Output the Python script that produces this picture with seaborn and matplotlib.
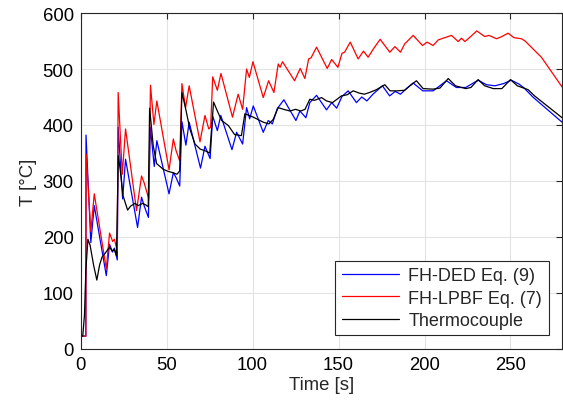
import matplotlib
matplotlib.use("Agg")
import matplotlib.pyplot as plt
import seaborn as sns
import pandas as pd

# ---- data ----
t_ded = [0, 3.0, 3.1, 5.9, 7.9, 14.9, 16.8, 18.5, 19.6, 21.3, 21.8, 24.4, 26.1, 33.1, 35.4, 37.0,
         39.4, 40.5, 42.8, 44.3, 51.4, 53.9, 55.5, 57.6, 58.9, 61.2, 63.1, 69.7, 72.3, 75.3,
         76.8, 79.5, 81.5, 88.0, 90.7, 94.2, 96.5, 98.3, 100.4, 106.2, 109.1, 111.5, 114.3,
         118.2, 125.2, 127.5, 131.0, 133.3, 137.2, 143.0, 146.0, 148.9, 152.0, 155.6, 160.4,
         163.5, 166.5, 170.0, 175.5, 179.7, 183.0, 186.0, 189.5, 193.4, 199.0, 205.0, 212.8,
         218.5, 224.0, 231.2, 236.0, 241.0, 246.0, 250.5, 255.0, 258.0, 263.0, 280]
T_ded = [23, 23, 382, 190, 256, 131, 187, 173, 180, 159, 396, 268, 339, 217, 271, 255,
         235, 396, 326, 372, 277, 315, 306, 291, 406, 364, 405, 323, 362, 340,
         416, 390, 417, 356, 387, 366, 431, 411, 434, 387, 408, 402, 429,
         445, 408, 425, 413, 440, 453, 427, 440, 430, 451, 461, 440,
         450, 443, 455, 470, 452, 460, 455, 465, 475, 461, 461, 479,
         467, 467, 480, 472, 470, 474, 480, 473, 466, 450, 405]

t_lpbf = [0, 3.0, 3.2, 5.9, 7.9, 14.9, 16.8, 18.6, 19.6, 21.3, 21.8, 24.2, 26.1, 32.5, 35.4,
          37.0, 39.6, 40.6, 42.6, 44.3, 51.4, 53.9, 55.5, 57.6, 58.9, 61.0, 63.1, 69.4, 72.3,
          74.5, 75.6, 76.8, 79.5, 81.6, 88.3, 91.6, 94.2, 96.5, 98.1, 100.2, 106.2, 109.3,
          112.4, 114.9, 116.0, 117.4, 124.4, 127.7, 130.4, 132.6, 134.0, 137.2, 143.4, 146.0,
          149.6, 152.0, 153.5, 156.8, 161.4, 164.5, 167.2, 170.5, 174.2, 179.8, 182.8, 186.0,
          188.5, 193.4, 198.8, 201.5, 205.0, 208.0, 215.7, 219.6, 221.5, 223.5, 226.5, 230.4,
          235.0, 237.5, 241.9, 245.0, 248.6, 252.0, 256.4, 258.5, 268.0, 280]
T_lpbf = [23, 23, 348, 210, 277, 143, 207, 192, 196, 175, 458, 312, 393, 247, 309,
          296, 268, 471, 401, 443, 320, 375, 354, 336, 474, 431, 470, 370, 417,
          393, 396, 486, 462, 492, 414, 455, 428, 500, 485, 513, 449, 479,
          458, 509, 503, 513, 479, 501, 483, 518, 520, 539, 501, 517,
          503, 528, 530, 548, 518, 532, 521, 537, 553, 530, 540, 530,
          545, 560, 542, 548, 542, 552, 560, 549, 555, 549, 557, 568,
          558, 560, 554, 558, 564, 556, 554, 550, 521, 468]

t_tc = [0, 1.2, 2.2, 3.0, 4.2, 5.5, 7.5, 9.4, 11.0, 12.4, 14.5, 16.8, 18.3, 19.5, 20.8, 21.9,
        23.0, 24.6, 27.3, 29.0, 31.5, 33.5, 36.0, 38.0, 39.3, 40.1, 42.2, 44.2, 46.5, 48.0,
        51.0, 53.5, 56.0, 57.6, 58.9, 61.0, 63.5, 66.5, 69.5, 72.3, 75.1, 77.3, 79.5, 82.0,
        85.9, 89.5, 93.5, 95.5, 98.0, 100.4, 103.0, 106.2, 109.5, 112.0, 114.9, 118.0, 121.7,
        125.0, 128.0, 130.5, 133.3, 136.0, 140.1, 143.0, 146.5, 151.7, 155.0, 158.5, 162.0,
        165.0, 168.0, 172.0, 176.9, 180.0, 184.0, 188.5, 191.5, 195.3, 199.2, 205.0, 209.0,
        213.8, 218.0, 224.0, 227.0, 231.2, 235.0, 240.0, 245.0, 250.0, 254.0, 260.3, 264.0, 280]
T_tc = [23, 23, 60, 140, 196, 185, 150, 123, 150, 164, 172, 182, 175, 178, 167, 345,
        320, 274, 248, 255, 260, 256, 260, 257, 254, 430, 363, 331, 325, 321,
        317, 315, 312, 318, 458, 430, 393, 366, 357, 354, 350, 441, 425, 408,
        399, 383, 381, 420, 417, 414, 410, 405, 402, 410, 431, 428, 425,
        428, 425, 428, 446, 444, 449, 443, 440, 452, 454, 461, 457,
        455, 458, 463, 472, 461, 461, 462, 470, 479, 465, 464, 466,
        483, 470, 465, 467, 481, 470, 465, 465, 481, 470, 463, 452, 413]

labels = ["FH-DED Eq. (9)", "FH-LPBF Eq. (7)", "Thermocouple"]
colors = ["#0000ff", "#ff0000", "#000000"]
x_ticks = [0, 50, 100, 150, 200, 250]
y_ticks = [0, 100, 200, 300, 400, 500, 600]

df = pd.concat([
    pd.DataFrame({"Time": t_ded, "T": T_ded, "series": labels[0]}),
    pd.DataFrame({"Time": t_lpbf, "T": T_lpbf, "series": labels[1]}),
    pd.DataFrame({"Time": t_tc, "T": T_tc, "series": labels[2]}),
], ignore_index=True)

sns.set_style("white")
plt.rcParams["font.family"] = ["Liberation Sans", "DejaVu Sans"]

fig = plt.figure(figsize=(5.63, 4.06), dpi=100)
ax = fig.add_axes([0.1433, 0.138, 0.855, 0.8275])

sns.lineplot(data=df, x="Time", y="T", hue="series", palette=dict(zip(labels, colors)),
             hue_order=labels, estimator=None, sort=False, linewidth=0.9, ax=ax)
for ln in ax.get_lines():
    ln.set_solid_joinstyle("round")

ax.set_xlim(0, 280)
ax.set_ylim(0, 600)
ax.set_xticks(x_ticks)
ax.set_yticks(y_ticks)
ax.grid(True, color="#e3e3e3", linewidth=0.8)
ax.set_axisbelow(True)
for s in ax.spines.values():
    s.set_visible(True)
    s.set_color("#262626")
    s.set_linewidth(0.8)
ax.tick_params(direction="in", top=True, right=True, length=4, width=0.8,
               colors="#262626", labelsize=13.3, labelcolor="#000000", pad=5)
ax.set_xlabel("Time [s]", fontsize=13.3, labelpad=2)
ax.set_ylabel("T [°C]", fontsize=13.3, labelpad=4)

handles, labs = ax.get_legend_handles_labels()
leg = ax.legend(handles, labs, loc="lower right", fontsize=13, frameon=True,
                fancybox=False, edgecolor="#262626", framealpha=1,
                handlelength=3.2, labelspacing=0.3, borderaxespad=0.75,
                borderpad=0.35, handletextpad=0.5)
leg.get_frame().set_linewidth(0.8)

fig.savefig("out.png", dpi=100)
